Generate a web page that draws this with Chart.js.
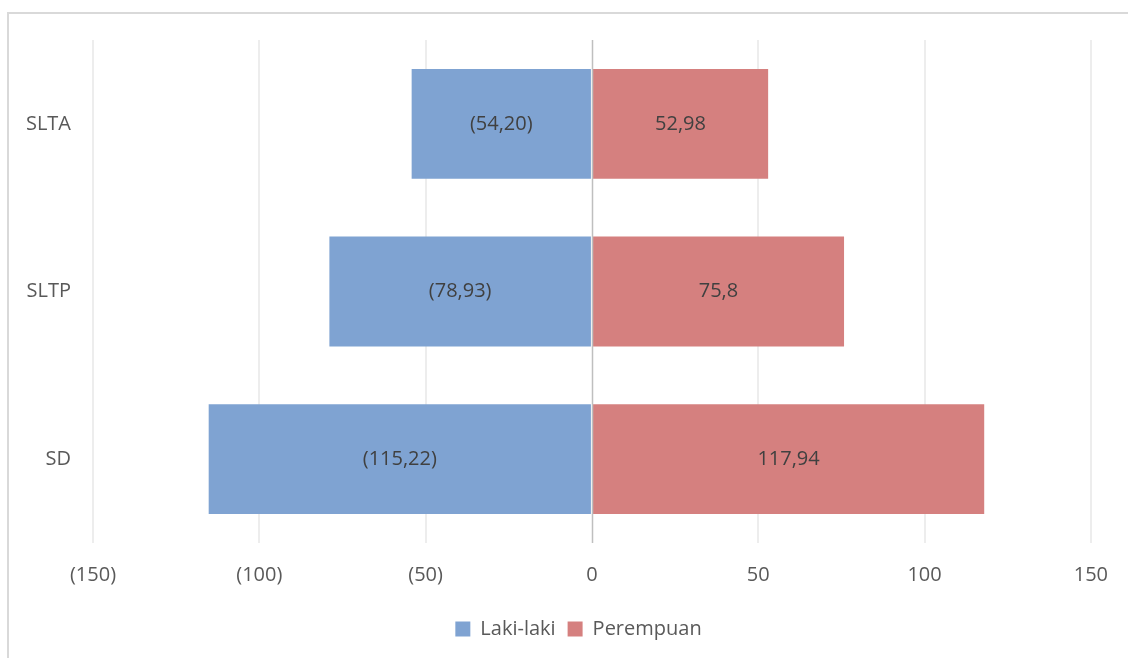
<!DOCTYPE html>
<html>
<head>
<meta charset="utf-8">
<script src="https://cdn.jsdelivr.net/npm/chart.js"></script>
<style>
  body{margin:0;background:#fff;}
  #wrap{position:relative;width:1128px;height:658px;overflow:hidden;}
  #frame{position:absolute;left:7px;top:12px;width:1140px;height:660px;border:2px solid #d9d9d9;box-sizing:border-box;}
  canvas{position:absolute;left:0;top:0;}
</style>
</head>
<body>
<div id="wrap">
  <div id="frame"></div>
  <canvas id="grafik" width="1128" height="658"></canvas>
</div>
<script>
// ===== data =====
const kategori = ["SLTA", "SLTP", "SD"];
const lakiLaki = [-54.20, -78.93, -115.22];
const perempuan = [52.98, 75.8, 117.94];
const labelLaki = ["(54,20)", "(78,93)", "(115,22)"];
const labelPerempuan = ["52,98", "75,8", "117,94"];
const tickX = [-150, -100, -50, 0, 50, 100, 150];

const FONT = "'Open Sans', 'Noto Sans', sans-serif";
const UKURAN = 20;

// label di tengah batang + garis nol di atas batang
const labelBatang = {
  id: "labelBatang",
  afterLayout(chart) {
    // geser legenda sedikit ke kanan seperti di gambar asli
    chart.legend.left += 27;
    chart.legend.right += 27;
  },
  afterDatasetsDraw(chart) {
    const ctx = chart.ctx;
    const x = chart.scales.x;
    const a = chart.chartArea;
    const x0 = Math.round(x.getPixelForValue(0)) + 0.5;
    ctx.save();
    ctx.strokeStyle = "#bfbfbf";
    ctx.lineWidth = 1.5;
    ctx.beginPath();
    ctx.moveTo(x0, a.top);
    ctx.lineTo(x0, a.bottom);
    ctx.stroke();

    ctx.font = UKURAN + "px " + FONT;
    ctx.fillStyle = "#404040";
    ctx.textAlign = "center";
    ctx.textBaseline = "middle";
    const teks = [labelLaki, labelPerempuan];
    chart.data.datasets.forEach((ds, di) => {
      chart.getDatasetMeta(di).data.forEach((bar, i) => {
        const p = bar.getProps(["x", "y", "base"], true);
        ctx.fillText(teks[di][i], (p.x + p.base) / 2, p.y);
      });
    });
    ctx.restore();
  }
};

new Chart(document.getElementById("grafik"), {
  type: "bar",
  data: {
    labels: kategori,
    datasets: [
      {label: "Laki-laki", data: lakiLaki, backgroundColor: "#7fa3d2"},
      {label: "Perempuan", data: perempuan, backgroundColor: "#d5807f"}
    ]
  },
  options: {
    indexAxis: "y",
    responsive: false,
    animation: false,
    layout: {padding: {left: 12, right: 37, top: 40, bottom: 9}},
    datasets: {bar: {categoryPercentage: 1, barPercentage: 0.655}},
    scales: {
      x: {
        stacked: true,
        min: -150, max: 150,
        afterBuildTicks: s => { s.ticks = tickX.map(v => ({value: v})); },
        border: {display: false},
        grid: {
          color: c => c.tick && c.tick.value === 0 ? "rgba(0,0,0,0)" : "#ededed",
          lineWidth: 2,
          drawTicks: false
        },
        ticks: {
          padding: 20,
          color: "#595959",
          font: {family: FONT, size: UKURAN},
          callback: v => v < 0 ? "(" + Math.abs(v) + ")" : String(v)
        }
      },
      y: {
        stacked: true,
        afterFit: s => { s.width = 81; },
        border: {display: false},
        grid: {display: false, drawTicks: false},
        ticks: {
          padding: 22,
          color: "#595959",
          font: {family: FONT, size: UKURAN}
        }
      }
    },
    plugins: {
      tooltip: {enabled: false},
      legend: {
        position: "bottom",
        labels: {
          boxWidth: 15,
          boxHeight: 15,
          padding: 12,
          color: "#595959",
          font: {family: FONT, size: UKURAN}
        }
      }
    }
  },
  plugins: [labelBatang]
});
</script>
</body>
</html>
